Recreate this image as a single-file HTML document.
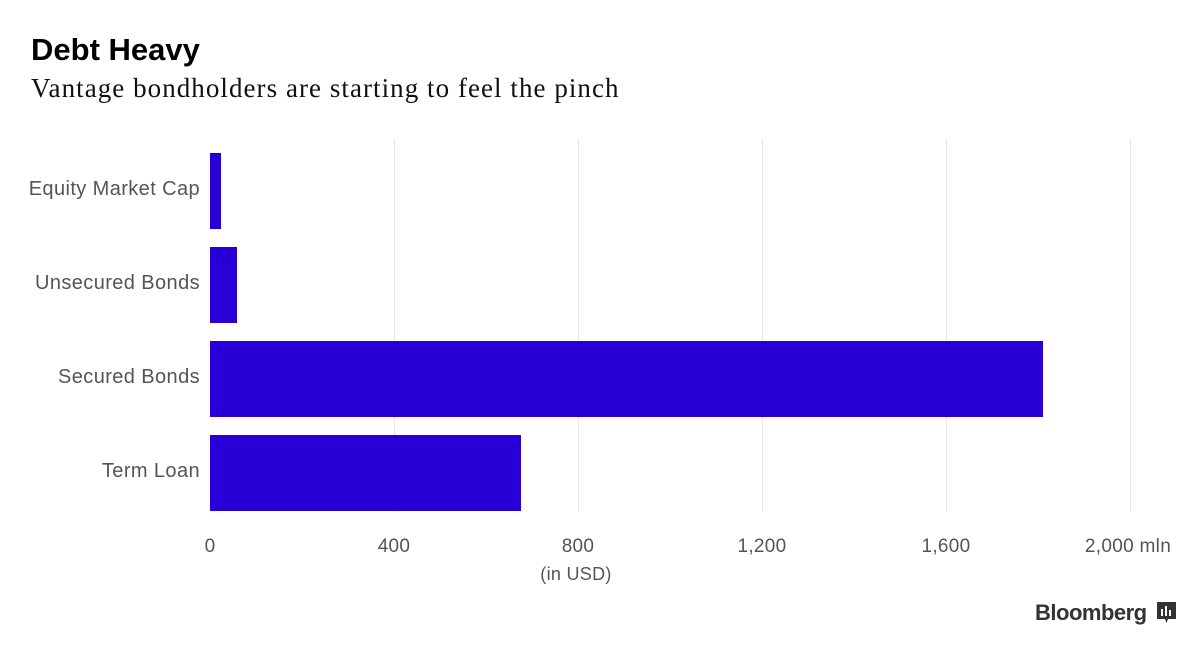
<!DOCTYPE html>
<html><head><style>
body{margin:0;width:1200px;height:651px;background:#fff;position:relative;overflow:hidden;font-family:"Liberation Sans",sans-serif}
.a{position:absolute}
.grid{position:absolute;top:138px;height:374px;width:1px;background:#e6e6e6}
.bar{position:absolute;left:210px;height:76px;background:#2800d7}
.lbl{position:absolute;right:1000px;font-size:20px;letter-spacing:0.4px;color:#555;text-align:right;white-space:nowrap}
.tk{position:absolute;top:536px;font-size:19px;letter-spacing:0.3px;color:#555;transform:translateX(-50%);white-space:nowrap}
</style></head><body>
<div class="a" style="left:31px;top:32px;font-size:31px;font-weight:bold;color:#000">Debt Heavy</div>
<div class="a" style="left:31px;top:73px;font-size:27px;letter-spacing:1.05px;font-family:'Liberation Serif',serif;color:#111">Vantage bondholders are starting to feel the pinch</div>
<div class="grid" style="left:394px"></div>
<div class="grid" style="left:578px"></div>
<div class="grid" style="left:762px"></div>
<div class="grid" style="left:946px"></div>
<div class="grid" style="left:1130px"></div>
<div class="bar" style="top:153px;width:11px"></div>
<div class="bar" style="top:247px;width:27px"></div>
<div class="bar" style="top:341px;width:833px"></div>
<div class="bar" style="top:435px;width:311px"></div>
<div class="lbl" style="top:178px">Equity Market Cap</div>
<div class="lbl" style="top:272px">Unsecured Bonds</div>
<div class="lbl" style="top:366px">Secured Bonds</div>
<div class="lbl" style="top:460px">Term Loan</div>
<div class="tk" style="left:210px">0</div>
<div class="tk" style="left:394px">400</div>
<div class="tk" style="left:578px">800</div>
<div class="tk" style="left:762px">1,200</div>
<div class="tk" style="left:946px">1,600</div>
<div class="tk" style="left:1128px">2,000 mln</div>
<div class="tk" style="left:576px;top:564px;font-size:18px">(in USD)</div>
<div class="a" style="left:1035px;top:600px;font-size:22px;font-weight:bold;color:#333;letter-spacing:-0.5px">Bloomberg</div>
<svg class="a" style="left:1157px;top:602px" width="19" height="22" viewBox="0 0 19 22"><path d="M0 0H19V17H11L9.5 21L8 17H0Z" fill="#333"/><rect x="4" y="7" width="2" height="7" fill="#fff"/><rect x="8" y="4" width="2" height="10" fill="#fff"/><rect x="12" y="8" width="2" height="6" fill="#fff"/></svg>
</body></html>
